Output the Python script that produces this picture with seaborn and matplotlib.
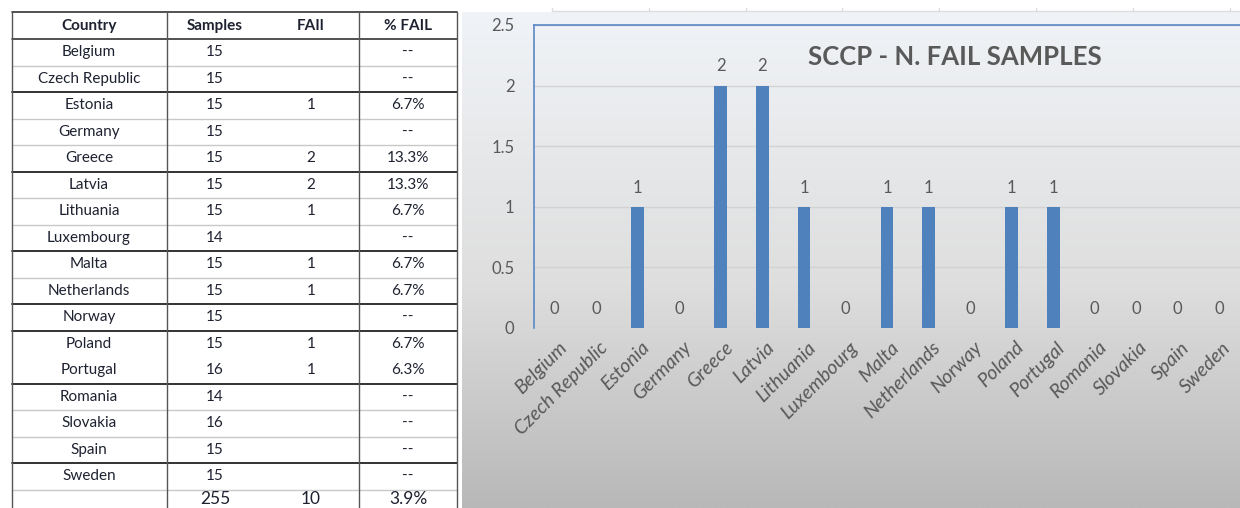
import numpy as np
import matplotlib
matplotlib.use("Agg")
import matplotlib.pyplot as plt
import matplotlib.transforms as mtransforms
import seaborn as sns

countries = ["Belgium", "Czech Republic", "Estonia", "Germany", "Greece", "Latvia",
             "Lithuania", "Luxembourg", "Malta", "Netherlands", "Norway", "Poland",
             "Portugal", "Romania", "Slovakia", "Spain", "Sweden"]
samples = [15, 15, 15, 15, 15, 15, 15, 14, 15, 15, 15, 15, 16, 14, 16, 15, 15]
fails = [0, 0, 1, 0, 2, 2, 1, 0, 1, 1, 0, 1, 1, 0, 0, 0, 0]
pct_fail = ["--", "--", "6.7%", "--", "13.3%", "13.3%", "6.7%", "--", "6.7%", "6.7%",
            "--", "6.7%", "6.3%", "--", "--", "--", "--"]
total_row = ["", "255", "10", "3.9%"]
headers = ["Country", "Samples", "FAIl", "% FAIL"]
title = "SCCP - N. FAIL SAMPLES"

sns.set_theme(style="white")
plt.rcParams["font.family"] = ["Lato", "DejaVu Sans"]

W, H = 1240, 508
fig = plt.figure(figsize=(W / 100, H / 100), dpi=100)
fig.patch.set_facecolor("white")

# ---- gradient panel behind the chart
bg = fig.add_axes([462 / W, 0, (W - 462) / W, (H - 12) / H])
stops = np.array([[240, 243, 247], [222, 222, 222], [184, 184, 184]]) / 255
t = np.linspace(0, 1, 256)
grad = np.stack([np.interp(t, [0, 0.55, 1], stops[:, c]) for c in range(3)], axis=1)
bg.imshow(grad[:, None, :], aspect="auto", extent=[0, 1, 0, 1])
bg.set_axis_off()

# ---- table drawn in pixel space
tab = fig.add_axes([0, 0, 1, 1], facecolor="none")
tab.set_xlim(0, W)
tab.set_ylim(H, 0)
tab.set_axis_off()

col_x = [89, 215, 311, 408]
row_h = 26.5
top_y = 39
txt = "#1e2230"
for cx, h in zip(col_x, headers):
    tab.text(cx, 26, h, ha="center", va="center", fontsize=11, fontweight="bold", color=txt)
for i, c in enumerate(countries):
    cy = top_y + row_h * (i + 0.5)
    vals = [c, str(samples[i]), str(fails[i]) if fails[i] else "", pct_fail[i]]
    for cx, v in zip(col_x, vals):
        tab.text(cx, cy, v, ha="center", va="center", fontsize=11, color=txt)
for cx, v in zip(col_x, total_row):
    tab.text(cx, 507, v, ha="center", va="bottom", fontsize=12.5, color=txt)

# row separators: dark ones close a group
thick_after = {1, 4, 7, 9, 10, 12, 15}
tab.plot([12, 457], [12, 12], color="#333333", lw=1.2)
tab.plot([12, 457], [top_y, top_y], color="#333333", lw=1.2)
for i in range(len(countries)):
    yy = top_y + row_h * (i + 1)
    if i in thick_after:
        tab.plot([12, 457], [yy, yy], color="#222222", lw=1.3)
    elif i != 11:
        tab.plot([12, 457], [yy, yy], color="#c8c8c8", lw=1)
for xx in [12, 167, 359, 457]:
    tab.plot([xx, xx], [12, H], color="#555555", lw=1)

# faint strip above the chart
tab.plot([552, W], [11, 11], color="#dcdcdc", lw=1)
for xx in np.arange(552, W, 96.8):
    tab.plot([xx, xx], [8, 11], color="#dcdcdc", lw=1)

# ---- bar chart
ax = fig.add_axes([534 / W, (H - 328) / H, (W - 534) / W, (328 - 25) / H], facecolor="none")
sns.barplot(x=countries, y=fails, color="#4f81bd", width=0.31, saturation=1,
            edgecolor="none", linewidth=0, ax=ax)
ax.set_xlim(-0.5, 16.5)
ax.set_ylim(0, 2.5)
ax.set_yticks([0, 0.5, 1, 1.5, 2, 2.5])
ax.set_yticklabels(["0", "0.5", "1", "1.5", "2", "2.5"])
ax.yaxis.grid(True, color="#d2d2d2", lw=1)
ax.set_axisbelow(True)
for s in ["right", "bottom"]:
    ax.spines[s].set_visible(False)
for s in ["left", "top"]:
    ax.spines[s].set_color("#5b87c5")
    ax.spines[s].set_linewidth(1.2)
ax.tick_params(axis="y", length=0, pad=14, labelsize=12, labelcolor="#595959")
ax.tick_params(axis="x", length=0, pad=2, labelsize=14, labelcolor="#595959")
ax.set_xlabel("")
ax.set_ylabel("")

off = mtransforms.ScaledTranslation(3 / 100, -8 / 100, fig.dpi_scale_trans)
for lab in ax.get_xticklabels():
    lab.set_rotation(45)
    lab.set_ha("right")
    lab.set_va("top")
    lab.set_rotation_mode("anchor")
    lab.set_style("italic")
    lab.set_transform(lab.get_transform() + off)

ax.bar_label(ax.containers[0], labels=[str(v) for v in fails], padding=8,
             fontsize=12, color="#595959")

fig.text(955 / W, 1 - 57 / H, title, ha="center", va="center", fontsize=18.5,
         fontweight="bold", color="#595959")

fig.savefig("out.png", dpi=100)
